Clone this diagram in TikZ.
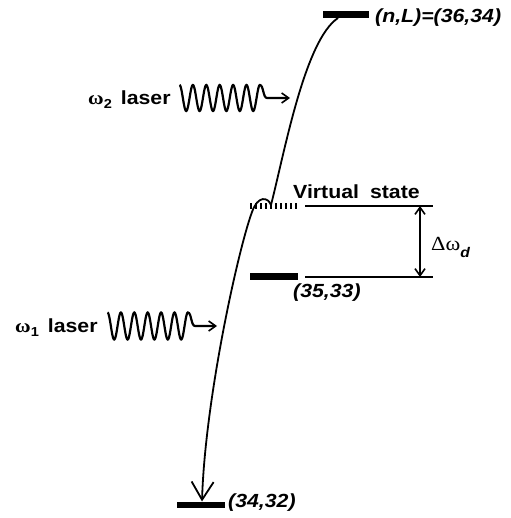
\documentclass[tikz,border=0pt]{standalone}
\usepackage{fontspec}
\setmainfont[FakeStretch=1.12]{Liberation Sans}
\newfontfamily\greekfont[FakeStretch=1.12]{Liberation Serif}
\usetikzlibrary{arrows.meta}

\tikzset{
  bar/.style={fill=black, inner sep=0pt, minimum height=7pt},
  hatchbar/.style={line width=6pt, dash pattern=on 2pt off 3pt},
  guide/.style={line width=1.6pt},
  trans/.style={line width=1.8pt},
  wave/.style={line width=2.2pt},
  txt/.style={font=\fontsize{19}{22}\selectfont\bfseries, inner sep=0pt, anchor=base west},
  lbl/.style={font=\fontsize{19}{22}\selectfont\bfseries\itshape, inner sep=0pt, anchor=base west},
  barb/.tip={Straight Barb[length=7pt,width=10pt,line width=1.6pt]},
}

\begin{document}
\begin{tikzpicture}[x=1pt,y=-1pt]
\useasboundingbox (0,0) rectangle (510,518);

% energy levels
\node[bar, minimum width=46pt] (L36) at (346,14.3) {};
\node[bar, minimum width=48pt] (L35) at (274,276.5) {};
\node[bar, minimum width=48pt, minimum height=6pt] (L34) at (201,504.5) {};
\coordinate (V1) at (250,206);
\coordinate (V2) at (298,206);
\draw[hatchbar] (V1) -- (V2);

\node[lbl] (t36) at (375,23) {(n,L)=(36,34)};
\node[lbl] (t35) at (293,297) {(35,33)};
\node[lbl] (t34) at (228,507) {(34,32)};
\node[txt] (tv) at (293,199) {Virtual\hspace{11pt}state};

% detuning
\coordinate (a1) at (305,206);
\coordinate (a2) at (433,206);
\coordinate (b1) at (305,277);
\coordinate (b2) at (433,277);
\draw[guide] (a1) -- (a2);
\draw[guide] (b1) -- (b2);
\coordinate (d1) at (420,206);
\coordinate (d2) at (420,277);
\draw[guide, barb-barb] (d1) -- (d2);
\node[txt, font=\fontsize{20}{22}\selectfont] (tdw) at (431,250)
  {{\greekfont\symbol{"0394}\symbol{"03C9}}\raisebox{-7pt}{\fontsize{14}{14}\selectfont\bfseries\itshape d}};

% two-photon path
\coordinate (vx) at (271,205);
\coordinate (top) at (338,18);
\coordinate (bot) at (202,501.5);
\draw[trans] (vx) .. controls (285,150) and (305,40) .. (top);
\draw[trans, -{Straight Barb[length=18pt,width=22pt,line width=1.8pt]}]
  (vx) .. controls (268,197) and (258,195) .. (252,212)
       .. controls (238,250) and (205,400) .. (bot);

% lasers
\node[txt] (w2) at (88,105)
  {{\greekfont\symbol{"03C9}}\raisebox{-4pt}{\fontsize{13}{13}\selectfont\bfseries 2}\hspace{9pt}laser};
\coordinate (w2tip) at (290,98);
\draw[wave, -barb] plot[domain=0:6, samples=181, smooth] ({179.5+13.4*\x},{98-13*cos(360*\x)})
  .. controls (263.5,85) and (263,98) .. (267,98) -- (w2tip);

\node[txt] (w1) at (15,332)
  {{\greekfont\symbol{"03C9}}\raisebox{-4pt}{\fontsize{13}{13}\selectfont\bfseries 1}\hspace{9pt}laser};
\coordinate (w1tip) at (217,326);
\draw[wave, -barb] plot[domain=0:6, samples=181, smooth] ({107.5+13.4*\x},{326-13.5*cos(360*\x)})
  .. controls (191.5,312.5) and (191,326) .. (195,326) -- (w1tip);
\end{tikzpicture}
\end{document}
